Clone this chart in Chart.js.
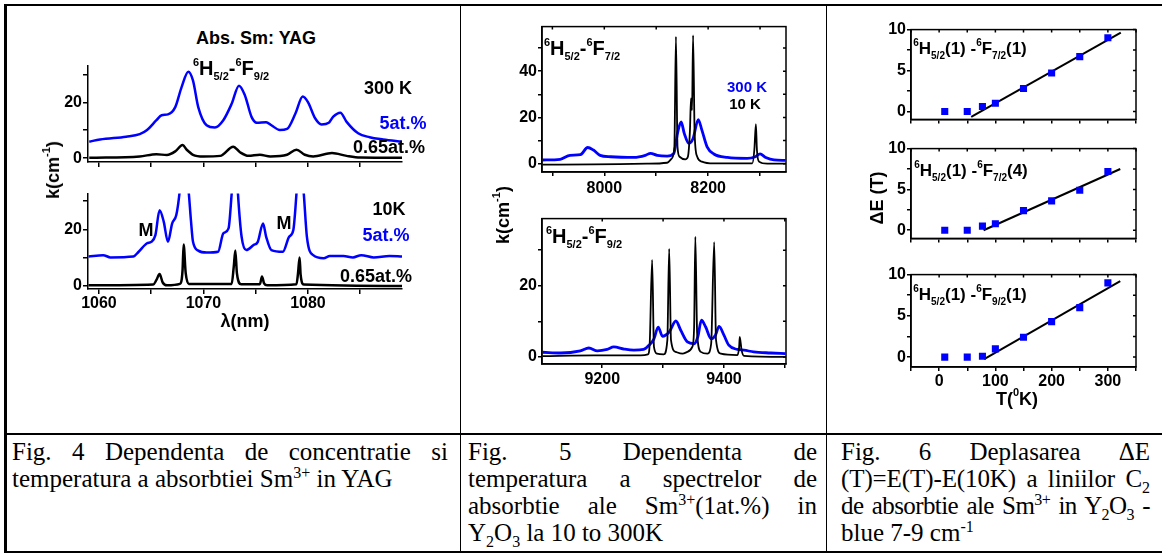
<!DOCTYPE html>
<html>
<head>
<meta charset="utf-8">
<script src="https://cdn.jsdelivr.net/npm/chart.js@4"></script>
<style>
  body { margin: 0; background: #fff; }
  #page { position: relative; width: 1162px; height: 553px; overflow: hidden; background: #fff; }
  canvas { position: absolute; }
  .rule { position: absolute; background: #000; }
  .t { position: absolute; font: bold 18px "Liberation Sans", Arial, sans-serif; line-height: 1;
       white-space: nowrap; color: #000; transform: translate(-50%, -50%); }
  .t sup, .t sub { font-size: 11px; position: relative; vertical-align: baseline; }
  .t sup { top: -0.8em; }
  .t sub { top: 0.45em; }
  .t.small { font-size: 15px; }
  .t.term { font-size: 20px; }
  .t.term3 { font-size: 17px; }
  .t.term3 sup, .t.term3 sub { font-size: 10px; }
  .blue { color: #0000ff; }
  .rot { transform: translate(-50%, -50%) rotate(-90deg); }
  .cap { position: absolute; top: 438px; font: 25px "Liberation Serif", "Times New Roman", serif;
         line-height: 27px; color: #000; }
  .cap div { text-align: justify; text-align-last: justify; }
  .cap div.last { text-align-last: left; }
  .cap sup, .cap sub { font-size: 16px; line-height: 0; }
</style>
</head>
<body>
<div id="page">
  <canvas id="c4a"></canvas>
  <canvas id="c4b"></canvas>
  <canvas id="c5a"></canvas>
  <canvas id="c5b"></canvas>
  <canvas id="c6a"></canvas>
  <canvas id="c6b"></canvas>
  <canvas id="c6c"></canvas>

  <!-- table lines -->
  <div class="rule" style="left:4px;top:4px;width:1158px;height:2px"></div>
  <div class="rule" style="left:4px;top:4px;width:3px;height:549px"></div>
  <div class="rule" style="left:4px;top:551px;width:1158px;height:2px"></div>
  <div class="rule" style="left:4px;top:433px;width:1158px;height:2px"></div>
  <div class="rule" style="left:460px;top:4px;width:1px;height:549px"></div>
  <div class="rule" style="left:826px;top:4px;width:1px;height:549px"></div>

  <!-- Fig. 4 labels -->
  <div class="t" style="left:256px;top:38px">Abs. Sm: YAG</div>
  <div class="t term" style="left:231px;top:68px"><sup>6</sup>H<sub>5/2</sub>-<sup>6</sup>F<sub>9/2</sub></div>
  <div class="t" style="left:388px;top:88px">300 K</div>
  <div class="t blue" style="left:403px;top:123px">5at.%</div>
  <div class="t" style="left:389px;top:147px">0.65at.%</div>
  <div class="t" style="left:389px;top:209px">10K</div>
  <div class="t blue" style="left:386px;top:235px">5at.%</div>
  <div class="t" style="left:376px;top:276px">0.65at.%</div>
  <div class="t" style="left:146px;top:230px">M</div>
  <div class="t" style="left:284px;top:223px">M</div>
  <div class="t rot" style="left:53px;top:170px">k(cm<sup>-1</sup>)</div>
  <div class="t" style="left:245px;top:321px">λ(nm)</div>

  <!-- Fig. 5 labels -->
  <div class="t term" style="left:582px;top:48px"><sup>6</sup>H<sub>5/2</sub>-<sup>6</sup>F<sub>7/2</sub></div>
  <div class="t small blue" style="left:747px;top:86px">300 K</div>
  <div class="t small" style="left:745px;top:103px">10 K</div>
  <div class="t term" style="left:584px;top:236px"><sup>6</sup>H<sub>5/2</sub>-<sup>6</sup>F<sub>9/2</sub></div>
  <div class="t rot" style="left:503px;top:215px">k(cm<sup>-1</sup>)</div>

  <!-- Fig. 6 labels -->
  <div class="t term3" style="left:970px;top:48px"><sup>6</sup>H<sub>5/2</sub>(1) -<sup>6</sup>F<sub>7/2</sub>(1)</div>
  <div class="t term3" style="left:971px;top:170px"><sup>6</sup>H<sub>5/2</sub>(1) -<sup>6</sup>F<sub>7/2</sub>(4)</div>
  <div class="t term3" style="left:970px;top:294px"><sup>6</sup>H<sub>5/2</sub>(1) -<sup>6</sup>F<sub>9/2</sub>(1)</div>
  <div class="t rot" style="left:877px;top:198px">ΔE (T)</div>
  <div class="t" style="left:1017px;top:399px">T(<sup>0</sup>K)</div>

  <!-- captions -->
  <div class="cap" style="left:12px;width:436px">
    <div>Fig. 4 Dependenta de concentratie si</div>
    <div class="last">temperatura a absorbtiei Sm<sup>3+</sup> in YAG</div>
  </div>
  <div class="cap" style="left:468px;width:349px">
    <div>Fig. 5 Dependenta de</div>
    <div>temperatura a spectrelor de</div>
    <div>absorbtie ale Sm<sup>3+</sup>(1at.%) in</div>
    <div class="last">Y<sub>2</sub>O<sub>3</sub> la 10 to 300K</div>
  </div>
  <div class="cap" style="left:841px;width:309px">
    <div>Fig. 6 Deplasarea ΔE</div>
    <div style="letter-spacing:-0.1px">(T)=E(T)-E(10K) a liniilor C<sub>2</sub></div>
    <div style="letter-spacing:-0.6px">de absorbtie ale Sm<sup>3+</sup> in Y<sub>2</sub>O<sub>3</sub> -</div>
    <div class="last">blue 7-9 cm<sup>-1</sup></div>
  </div>
</div>

<script>
// ---- Fig. 4: Sm:YAG absorption, 6H5/2-6F9/2, lambda (nm) ----
const yag300BlueX = [1059.07, 1060.1, 1062.6, 1063.9, 1064.6, 1065.5, 1066.0, 1066.6, 1067.3, 1067.9,
  1068.55, 1069.0, 1069.5, 1070.3, 1071.1, 1071.9, 1072.7, 1073.4, 1073.97, 1074.6, 1075.1, 1076.0,
  1076.5, 1077.3, 1078.0, 1078.8, 1079.5, 1080.0, 1080.7, 1081.3, 1082.0, 1082.4, 1083.1, 1083.7,
  1084.8, 1085.9, 1087.2, 1089.0];
const yag300Blue = [5.9, 6.7, 7.7, 8.6, 10.1, 13.6, 15.4, 15.7, 18.3, 25.4, 31.0, 27.8, 18.3, 11.8,
  11.0, 13.6, 19.5, 26.0, 22.5, 14.8, 12.7, 12.9, 11.8, 10.1, 10.5, 16.0, 22.1, 20.1, 14.2, 12.1, 12.7,
  14.8, 16.3, 13.0, 8.9, 7.5, 6.7, 5.9];
const yag300BlackX = [1059.07, 1063.9, 1065.5, 1066.5, 1067.3, 1068.0, 1068.4, 1069.0, 1070.0, 1071.6,
  1072.85, 1073.5, 1074.3, 1075.4, 1076.4, 1078.0, 1078.9, 1079.7, 1080.5, 1082.3, 1083.7, 1085.0, 1089.0];
const yag300Black = [0.1, 0.6, 1.4, 1.1, 2.4, 4.7, 3.0, 1.2, 0.6, 0.8, 4.1, 2.1, 0.8, 1.2, 0.6, 1.2,
  3.0, 1.2, 0.6, 1.8, 0.8, 0.2, 0.1];

const yag10BlueX = [1059.0, 1060.4, 1061.1, 1063.3, 1063.8, 1064.6, 1065.0, 1065.4, 1065.8, 1066.2,
  1066.6, 1067.0, 1067.4, 1067.7, 1068.1, 1068.6, 1068.8, 1069.0, 1069.5, 1070.3, 1071.4, 1071.9,
  1072.4, 1072.7, 1073.05, 1073.3, 1073.65, 1074.1, 1074.8, 1075.2, 1075.7, 1076.0, 1076.5, 1077.6,
  1078.2, 1078.6, 1078.9, 1079.2, 1079.6, 1079.9, 1080.5, 1081.5, 1082.1, 1083.4, 1084.3, 1085.1,
  1086.3, 1087.8, 1089.0];
const yag10Blue = [10.4, 10.9, 10.1, 10.4, 12.1, 15.1, 15.6, 18.0, 26.8, 22.7, 15.6, 22.1, 25.1, 32.7,
  50, 32.7, 23.3, 15.6, 12.5, 11.8, 12.1, 18.6, 20.4, 32.7, 50, 32.7, 17.4, 12.7, 14.5, 15.6, 22.1,
  17.4, 12.7, 12.1, 17.4, 19.8, 32.7, 50, 32.7, 17.4, 10.9, 9.8, 10.6, 10.6, 10.1, 10.9, 10.1, 10.6, 10.4];
const yag10BlackX = [1059.0, 1065.2, 1065.5, 1065.8, 1066.1, 1066.5, 1067.75, 1068.0, 1068.1, 1068.3,
  1068.6, 1072.7, 1072.9, 1073.05, 1073.2, 1073.6, 1075.4, 1075.6, 1075.8, 1076.1, 1078.9, 1079.05,
  1079.2, 1079.3, 1079.6, 1089.0];
const yag10Black = [0.2, 0.5, 2.1, 4.2, 1.2, 0.2, 0.7, 5.6, 14.7, 4.5, 0.7, 0.7, 6.8, 12.5, 4.5, 0.6,
  0.6, 3.3, 0.9, 0.2, 0.6, 4.5, 10.1, 3.9, 0.5, 0];

const fig4XTicks = [1060, 1065, 1070, 1075, 1080, 1085];
const fig4XLabels = [1060, 1070, 1080];
const fig4YTicks = [0, 10, 20, 30];
const fig4YLabels = [0, 20];

// ---- Fig. 5: Sm:Y2O3, wavenumber (cm-1) ----
const f72HotX = [7881, 7915, 7934, 7954, 7968, 7979, 7992, 8012, 8057, 8079, 8089, 8102, 8121, 8134,
  8141, 8148, 8154, 8163, 8171, 8181, 8188, 8198, 8211, 8237, 8275, 8291, 8300, 8311, 8327, 8349];
const f72Hot = [1.6, 1.9, 3.6, 3.9, 7.0, 5.9, 3.6, 3.0, 2.7, 3.6, 4.5, 3.6, 3.3, 4.5, 13.1, 18.1, 13.1,
  8.8, 10.9, 19.1, 14.5, 7.3, 4.2, 2.7, 2.3, 3.0, 4.2, 2.7, 1.6, 1.4];
const f72ColdX = [7881, 7979, 8082, 8121, 8130, 8135, 8138, 8141, 8145, 8156, 8161, 8165, 8167, 8169,
  8171, 8174, 8179, 8188, 8211, 8285, 8289, 8292, 8294, 8298, 8314, 8349];
const f72Cold = [-0.4, -0.3, 0, 0.4, 2.3, 7.3, 55, 7.3, 3.0, 1.9, 3.0, 14.5, 28.2, 23.2, 55.5, 13.1,
  3.0, 0.9, 0.1, 0.1, 5.9, 17.1, 5.9, 0.9, 0, 0];

const f92HotX = [9102, 9132, 9164, 9178, 9192, 9208, 9219, 9236, 9252, 9268, 9277, 9285, 9292, 9299,
  9310, 9321, 9329, 9340, 9351, 9357, 9363, 9370, 9379, 9386, 9392, 9400, 9408, 9422, 9433, 9449,
  9477, 9501];
const f92Hot = [1.3, 1.1, 1.7, 2.5, 1.7, 2.1, 2.8, 2.2, 1.9, 2.1, 3.3, 5.1, 8.4, 5.8, 7.0, 10.1, 7.5,
  4.2, 3.7, 5.6, 10.3, 8.4, 5.1, 6.1, 8.6, 6.1, 3.3, 2.1, 1.9, 1.4, 1.1, 0.9];
const f92ColdX = [9102, 9186, 9263, 9275, 9278, 9282, 9285, 9290, 9301, 9307, 9310, 9313, 9321, 9332,
  9340, 9348, 9351, 9353, 9356, 9362, 9373, 9379, 9384, 9387, 9395, 9422, 9425, 9426, 9429, 9433, 9501];
const f92Cold = [0.2, 0.4, 0.4, 0.7, 3.7, 27.3, 2.8, 0.9, 0.7, 4.7, 30.4, 4.7, 1.4, 0.9, 1.4, 2.8,
  8.4, 33.8, 6.5, 1.4, 0.9, 3.7, 32.3, 4.7, 0.9, 0.5, 2.8, 5.6, 1.9, 0.3, 0];

const f72XTicks = [7900, 8000, 8100, 8200, 8300];
const f72XLabels = [8000, 8200];
const f72YTicks = [0, 10, 20, 30, 40, 50];
const f72YLabels = [0, 20, 40];
const f92XTicks = [9200, 9300, 9400, 9500];
const f92XLabels = [9200, 9400];
const f92YTicks = [0, 10, 20, 30];
const f92YLabels = [0, 20];

// ---- Fig. 6: line shift dE(T) vs T ----
const temps = [10, 50, 77, 100, 150, 200, 250, 300];
const shiftF72_1 = [0, 0, 0.6, 1.0, 2.8, 4.7, 6.7, 9.0];
const shiftF72_4 = [0, 0, 0.5, 0.8, 2.4, 3.6, 4.9, 7.2];
const shiftF92_1 = [0, 0, 0.1, 1.0, 2.4, 4.3, 6.0, 9.0];
const fitF72_1T = [57, 323];
const fitF72_1 = [-0.65, 9.63];
const fitF72_4T = [79, 322];
const fitF72_4 = [0.0, 7.5];
const fitF92_1T = [80, 322];
const fitF92_1 = [-0.24, 9.2];

const fig6XTicks = [-50, 0, 50, 100, 150, 200, 250, 300, 350];
const fig6XLabels = [0, 100, 200, 300];
const fig6YTicks = [0, 2.5, 5, 7.5, 10];
const fig6YLabels = [0, 5, 10];

// ---------------------------------------------------------------
const BLUE = '#0000ff';
Chart.defaults.font.family = '"Liberation Sans", Arial, sans-serif';
Chart.defaults.font.weight = 'bold';
Chart.defaults.font.size = 16;
Chart.defaults.color = '#000';

const pts = (xs, ys) => xs.map((x, i) => ({ x, y: ys[i] }));

function line(xs, ys, color, width) {
  return {
    data: pts(xs, ys), borderColor: color, borderWidth: width, pointRadius: 0,
    cubicInterpolationMode: 'monotone', fill: false,
  };
}

function squares(xs, ys) {
  return {
    data: pts(xs, ys), showLine: false, pointStyle: 'rect', pointRadius: 5,
    pointBackgroundColor: BLUE, pointBorderWidth: 0, borderColor: BLUE,
  };
}

function axis(o) {
  return {
    type: 'linear', min: o.min, max: o.max,
    afterBuildTicks: (s) => { s.ticks = o.ticks.map((v) => ({ value: v })); },
    afterFit: (s) => { if (s.isHorizontal()) s.height = o.size; else s.width = o.size; },
    ticks: {
      autoSkip: false, maxRotation: 0, padding: o.pad ?? 1, font: { size: o.font || 16 },
      callback: (v) => (o.labels.includes(v) ? String(v) : ''),
    },
    grid: { drawOnChartArea: false, tickLength: o.tl || 4, lineWidth: 1.5, color: '#000' },
    border: { color: '#000', width: 1.5 },
  };
}

// box around the plot with short inward ticks on top and right
const framePlugin = {
  id: 'frame',
  afterDatasetsDraw(chart) {
    const { ctx, chartArea: a, scales } = chart;
    ctx.save();
    ctx.strokeStyle = '#000';
    ctx.lineWidth = 1.5;
    ctx.strokeRect(a.left, a.top, a.right - a.left, a.bottom - a.top);
    ctx.beginPath();
    scales.x.ticks.forEach((t) => {
      const px = scales.x.getPixelForValue(t.value);
      ctx.moveTo(px, a.top); ctx.lineTo(px, a.top + 3);
    });
    scales.y.ticks.forEach((t) => {
      const py = scales.y.getPixelForValue(t.value);
      ctx.moveTo(a.right, py); ctx.lineTo(a.right - 3, py);
    });
    ctx.stroke();
    ctx.restore();
  },
};

function makeChart(id, box, datasets, x, y, framed) {
  const c = document.getElementById(id);
  const p = box.pad;
  c.width = p.left + box.yW + box.w + p.right;
  c.height = p.top + box.h + box.xH + p.bottom;
  c.style.left = (box.left - p.left - box.yW) + 'px';
  c.style.top = (box.top - p.top) + 'px';
  return new Chart(c, {
    type: 'line',
    data: { datasets },
    options: {
      responsive: false,
      animation: false,
      layout: { padding: p },
      plugins: { legend: { display: false }, tooltip: { enabled: false } },
      scales: { x: axis(Object.assign({ size: box.xH }, x)), y: axis(Object.assign({ size: box.yW }, y)) },
    },
    plugins: framed ? [framePlugin] : [],
  });
}

const pad4 = { left: 4, top: 10, right: 4, bottom: 2 };
const pad5 = { left: 4, top: 10, right: 6, bottom: 2 };
const pad6 = { left: 4, top: 10, right: 8, bottom: 2 };

// Fig. 4
makeChart('c4a', { left: 88, top: 65, w: 314, h: 97, yW: 40, xH: 10, pad: pad4 },
  [line(yag300BlueX, yag300Blue, BLUE, 2.5), line(yag300BlackX, yag300Black, '#000', 2.5)],
  { min: 1058.95, max: 1089, ticks: fig4XTicks, labels: [], tl: 5 },
  { min: -1.4, max: 33.2, ticks: fig4YTicks, labels: fig4YLabels, tl: 5 }, false);

makeChart('c4b', { left: 88, top: 193, w: 314, h: 96, yW: 40, xH: 26, pad: pad4 },
  [line(yag10BlueX, yag10Blue, BLUE, 2.5), line(yag10BlackX, yag10Black, '#000', 2.5)],
  { min: 1058.95, max: 1089, ticks: fig4XTicks, labels: fig4XLabels, tl: 5, pad: 0 },
  { min: -1.1, max: 32.7, ticks: fig4YTicks, labels: fig4YLabels, tl: 5 }, false);

// Fig. 5
makeChart('c5a', { left: 542, top: 26, w: 244, h: 146, yW: 40, xH: 28, pad: pad5 },
  [line(f72ColdX, f72Cold, '#000', 1.8), line(f72HotX, f72Hot, BLUE, 2.8)],
  { min: 7880, max: 8350, ticks: f72XTicks, labels: f72XLabels, pad: 3 },
  { min: -3.6, max: 59.3, ticks: f72YTicks, labels: f72YLabels }, true);

makeChart('c5b', { left: 542, top: 218, w: 244, h: 146, yW: 40, xH: 28, pad: pad5 },
  [line(f92ColdX, f92Cold, '#000', 1.8), line(f92HotX, f92Hot, BLUE, 2.8)],
  { min: 9101, max: 9502, ticks: f92XTicks, labels: f92XLabels, pad: 1.5 },
  { min: -2.0, max: 38.9, ticks: f92YTicks, labels: f92YLabels }, true);

// Fig. 6
makeChart('c6a', { left: 911, top: 29, w: 225, h: 91, yW: 40, xH: 8, pad: pad6 },
  [squares(temps, shiftF72_1), line(fitF72_1T, fitF72_1, '#000', 2)],
  { min: -50, max: 350, ticks: fig6XTicks, labels: [] },
  { min: -0.97, max: 10, ticks: fig6YTicks, labels: fig6YLabels }, true);

makeChart('c6b', { left: 911, top: 148, w: 225, h: 91, yW: 40, xH: 8, pad: pad6 },
  [squares(temps, shiftF72_4), line(fitF72_4T, fitF72_4, '#000', 2)],
  { min: -50, max: 350, ticks: fig6XTicks, labels: [] },
  { min: -1.0, max: 10, ticks: fig6YTicks, labels: fig6YLabels }, true);

makeChart('c6c', { left: 911, top: 274, w: 225, h: 93, yW: 40, xH: 26, pad: pad6 },
  [squares(temps, shiftF92_1), line(fitF92_1T, fitF92_1, '#000', 2)],
  { min: -50, max: 350, ticks: fig6XTicks, labels: fig6XLabels, pad: 1 },
  { min: -1.2, max: 10, ticks: fig6YTicks, labels: fig6YLabels }, true);
</script>
</body>
</html>
